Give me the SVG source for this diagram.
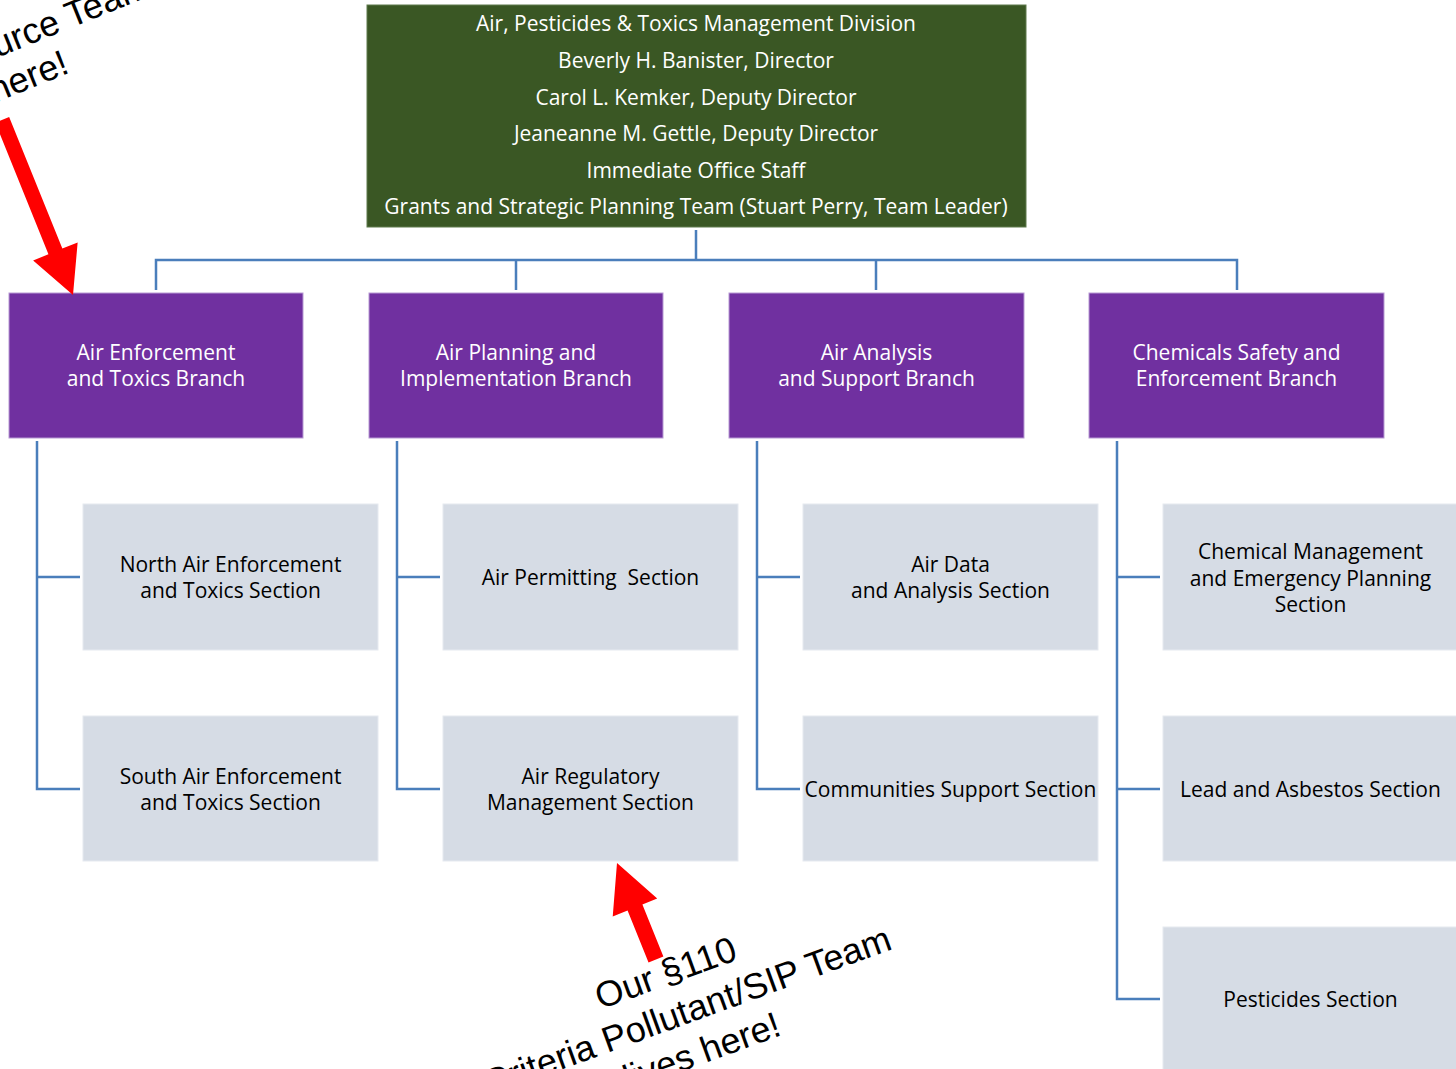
<svg xmlns="http://www.w3.org/2000/svg" width="1456" height="1069" viewBox="0 0 1456 1069">
<style>
.t{font-family:"Open Sans",Lato,sans-serif;font-size:21px;text-anchor:middle;}
.w{fill:#ffffff;}
.k{fill:#000000;}
.div{fill:#3A5724;stroke:#5E7B4C;stroke-width:1;}
.br{fill:#7030A0;stroke:#B79AD3;stroke-width:1;}
.sec{fill:#D6DCE5;stroke:#E6EAF0;stroke-width:1;}
.c{fill:none;stroke:#4A7EBB;stroke-width:2.5;}
.ann{font-family:"Liberation Sans",Arial,sans-serif;font-size:36px;fill:#000000;text-anchor:middle;}
.arr{fill:#FF0000;}
</style>
<rect width="1456" height="1069" fill="#ffffff"/>
<g id="connectors">
<path class="c" d="M696 230V260M156 290V260H1237V290M516 260V290M876 260V290"/>
<path class="c" d="M37 441V789H80M37 577H80"/>
<path class="c" d="M397 441V789H440M397 577H440"/>
<path class="c" d="M757 441V789H800M757 577H800"/>
<path class="c" d="M1117 441V999H1160M1117 577H1160M1117 789H1160"/>
</g>
<g id="division">
<rect class="div" x="367" y="5" width="659" height="222"/>
<text class="t w" x="696" y="31">Air, Pesticides &amp; Toxics Management Division</text>
<text class="t w" x="696" y="68">Beverly H. Banister, Director</text>
<text class="t w" x="696" y="105">Carol L. Kemker, Deputy Director</text>
<text class="t w" x="696" y="141">Jeaneanne M. Gettle, Deputy Director</text>
<text class="t w" x="696" y="178">Immediate Office Staff</text>
<text class="t w" x="696" y="214">Grants and Strategic Planning Team (Stuart Perry, Team Leader)</text>
</g>
<g id="branch1">
<rect class="br" x="9" y="293" width="294" height="145"/>
<text class="t w" x="156" y="360">Air Enforcement</text>
<text class="t w" x="156" y="386">and Toxics Branch</text>
</g>
<g id="branch2">
<rect class="br" x="369" y="293" width="294" height="145"/>
<text class="t w" x="516" y="360">Air Planning and</text>
<text class="t w" x="516" y="386">Implementation Branch</text>
</g>
<g id="branch3">
<rect class="br" x="729" y="293" width="295" height="145"/>
<text class="t w" x="876.5" y="360">Air Analysis</text>
<text class="t w" x="876.5" y="386">and Support Branch</text>
</g>
<g id="branch4">
<rect class="br" x="1089" y="293" width="295" height="145"/>
<text class="t w" x="1236.5" y="360">Chemicals Safety and</text>
<text class="t w" x="1236.5" y="386">Enforcement Branch</text>
</g>
<g id="north">
<rect class="sec" x="83" y="504" width="295" height="146"/>
<text class="t k" x="230.5" y="572">North Air Enforcement</text>
<text class="t k" x="230.5" y="598">and Toxics Section</text>
</g>
<g id="south">
<rect class="sec" x="83" y="716" width="295" height="145"/>
<text class="t k" x="230.5" y="784">South Air Enforcement</text>
<text class="t k" x="230.5" y="810">and Toxics Section</text>
</g>
<g id="permitting">
<rect class="sec" x="443" y="504" width="295" height="146"/>
<text class="t k" x="590.5" y="585" style="white-space:pre">Air Permitting  Section</text>
</g>
<g id="regulatory">
<rect class="sec" x="443" y="716" width="295" height="145"/>
<text class="t k" x="590.5" y="784">Air Regulatory</text>
<text class="t k" x="590.5" y="810">Management Section</text>
</g>
<g id="airdata">
<rect class="sec" x="803" y="504" width="295" height="146"/>
<text class="t k" x="950.5" y="572">Air Data</text>
<text class="t k" x="950.5" y="598">and Analysis Section</text>
</g>
<g id="communities">
<rect class="sec" x="803" y="716" width="295" height="145"/>
<text class="t k" x="950.5" y="797">Communities Support Section</text>
</g>
<g id="chemical">
<rect class="sec" x="1163" y="504" width="295" height="146"/>
<text class="t k" x="1310.5" y="559">Chemical Management</text>
<text class="t k" x="1310.5" y="586">and Emergency Planning</text>
<text class="t k" x="1310.5" y="612">Section</text>
</g>
<g id="lead">
<rect class="sec" x="1163" y="716" width="295" height="145"/>
<text class="t k" x="1310.5" y="797">Lead and Asbestos Section</text>
</g>
<g id="pesticides">
<rect class="sec" x="1163" y="927" width="295" height="146"/>
<text class="t k" x="1310.5" y="1007">Pesticides Section</text>
</g>
<g id="note-top">
<polygon class="arr" transform="translate(73,295) rotate(68)" points="0,0 -47,-24 -47,-7.5 -189,-7.5 -189,7.5 -47,7.5 -47,24"/>
<g transform="translate(-21,64) rotate(-22)">
<text class="ann" x="43" y="-42" style="text-anchor:end">Our</text>
<text class="ann" x="-5" y="1">Stationary Source Team</text>
<text class="ann" x="0" y="42">lives here!</text>
</g>
</g>
<g id="note-bottom">
<polygon class="arr" transform="translate(617,863) rotate(-112)" points="0,0 -48,-24 -48,-8 -104,-8 -104,8 -48,8 -48,24"/>
<g transform="translate(668,985) rotate(-20)">
<text class="ann" x="2" y="0">Our §110</text>
<text class="ann" x="9" y="43">Criteria Pollutant/SIP Team</text>
<text class="ann" x="9" y="86">lives here!</text>
</g>
</g>
</svg>
